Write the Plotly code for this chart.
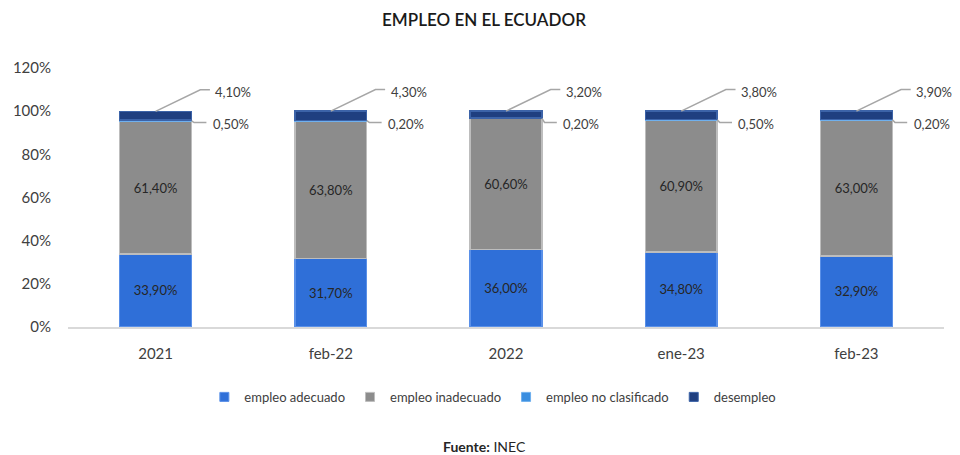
import plotly.graph_objects as go

# datos INEC (%)
periodos = ["2021", "feb-22", "2022", "ene-23", "feb-23"]
adecuado = [33.9, 31.7, 36.0, 34.8, 32.9]
inadecuado = [61.4, 63.8, 60.6, 60.9, 63.0]
no_clasificado = [0.5, 0.2, 0.2, 0.5, 0.2]
desempleo = [4.1, 4.3, 3.2, 3.8, 3.9]
y_ticks = [0, 20, 40, 60, 80, 100, 120]


def pct(v):
    return f"{v:.2f}".replace(".", ",") + "%"


FONT = "Lato"
TXT = "#404040"

fig = go.Figure()
series = [
    ("empleo adecuado", adecuado, "#2f6fd8", "#5a90e8", True),
    ("empleo inadecuado", inadecuado, "#8c8c8c", "#bdbdbd", True),
    ("empleo no clasificado", no_clasificado, "#3a8ee0", "#6fb0ee", False),
    ("desempleo", desempleo, "#1f3f80", "#3c63a8", False),
]
for name, vals, col, edge, inside in series:
    fig.add_trace(go.Bar(
        x=periodos, y=vals, name=name, showlegend=False,
        marker=dict(color=col, line=dict(color=edge, width=1.5)),
        text=[pct(v) for v in vals] if inside else None,
        textposition="inside" if inside else "none",
        insidetextanchor="middle",
        textfont=dict(family=FONT, size=13, color="#262626"),
        hoverinfo="skip",
    ))
    # entrada de leyenda con cuadrito pequeño
    fig.add_trace(go.Scatter(
        x=[None], y=[None], mode="markers", name=name,
        marker=dict(symbol="square", size=9, color=col, line=dict(color=edge, width=1)),
    ))

# etiquetas externas con lineas guia
shapes = []
annotations = []
for i in range(len(periodos)):
    total = adecuado[i] + inadecuado[i] + no_clasificado[i] + desempleo[i]
    nc_mid = adecuado[i] + inadecuado[i] + no_clasificado[i] / 2
    # desempleo
    shapes.append(dict(type="path", xref="x", yref="y",
                       path=f"M {i} {total} L {i + 0.255} {total + 10} L {i + 0.31} {total + 10}",
                       line=dict(color="#a6a6a6", width=1.5)))
    annotations.append(dict(x=i + 0.33, y=total + 9, xref="x", yref="y", text=pct(desempleo[i]),
                            showarrow=False, xanchor="left", yanchor="middle",
                            font=dict(family=FONT, size=13, color=TXT)))
    # no clasificado
    shapes.append(dict(type="path", xref="x", yref="y",
                       path=f"M {i + 0.205} {nc_mid} L {i + 0.22} {total - 5.2} L {i + 0.29} {total - 5.2}",
                       line=dict(color="#a6a6a6", width=1.5)))
    annotations.append(dict(x=i + 0.315, y=total - 5.8, xref="x", yref="y", text=pct(no_clasificado[i]),
                            showarrow=False, xanchor="left", yanchor="middle",
                            font=dict(family=FONT, size=13, color=TXT)))

annotations.append(dict(x=0.475, y=-0.463, xref="paper", yref="paper",
                        text="<b>Fuente:</b> INEC", showarrow=False,
                        xanchor="center", yanchor="middle",
                        font=dict(family=FONT, size=14, color="#262626")))

# la pagina tiene 8px de margen en body, se compensa aqui
fig.update_layout(
    width=952, height=447,
    margin=dict(l=60, r=16, t=60, b=128),
    paper_bgcolor="white", plot_bgcolor="white",
    barmode="stack", bargap=0.59,
    title=dict(text="EMPLEO EN EL ECUADOR", x=0.5, xanchor="center", y=0.973, yanchor="middle",
               font=dict(family=FONT, size=17, color="#1a1a1a", weight=600)),
    font=dict(family=FONT, color=TXT, size=14),
    showlegend=True,
    legend=dict(orientation="h", x=0.485, xanchor="center", y=-0.27, yanchor="middle",
                font=dict(family=FONT, size=13, color=TXT), traceorder="normal",
                itemwidth=30),
    shapes=shapes,
    annotations=annotations,
)
fig.update_xaxes(showgrid=False, showline=True, linecolor="#d9d9d9", linewidth=1.5,
                 ticks="", ticklabelstandoff=12, tickfont=dict(family=FONT, size=15, color=TXT),
                 range=[-0.5, 4.5], automargin=False)
fig.update_yaxes(showgrid=False, zeroline=False, range=[0, 120], tickmode="array",
                 tickvals=y_ticks, ticktext=[f"{v}%" for v in y_ticks], automargin=False,
                 ticks="", ticklabelstandoff=16, tickfont=dict(family=FONT, size=15, color=TXT))

fig.write_html("out.html")
